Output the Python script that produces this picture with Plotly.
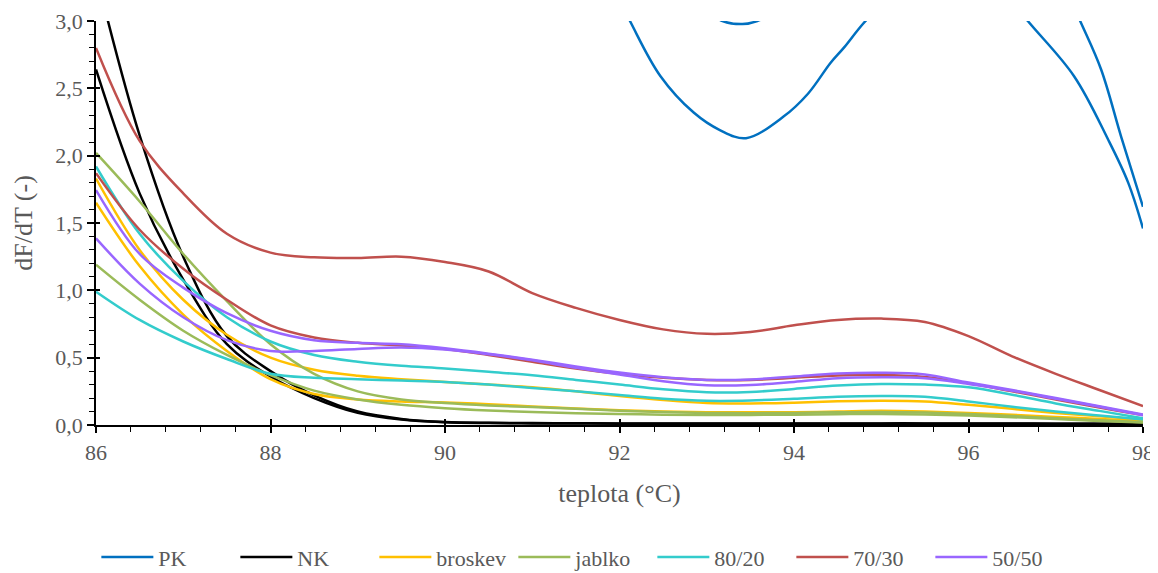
import plotly.graph_objects as go

# ---------------- data ----------------
teplota = [86, 86.5, 87, 87.5, 88, 88.5, 89, 89.5, 90, 90.5, 91, 91.5, 92, 92.5,
           93, 93.5, 94, 94.5, 95, 95.5, 96, 96.5, 97, 97.5, 98]

nk_1 = [3.35, 2.15, 1.25, 0.66, 0.40, 0.22, 0.10, 0.045, 0.022, 0.016, 0.014, 0.013, 0.012,
        0.012, 0.012, 0.012, 0.012, 0.012, 0.012, 0.012, 0.011, 0.011, 0.010, 0.010, 0.010]
nk_2 = [2.64, 1.72, 1.08, 0.60, 0.36, 0.20, 0.09, 0.04, 0.02, 0.014, 0.012, 0.011, 0.010,
        0.010, 0.010, 0.010, 0.010, 0.010, 0.010, 0.010, 0.009, 0.009, 0.009, 0.009, 0.009]
broskev_1 = [1.83, 1.30, 0.93, 0.67, 0.50, 0.41, 0.365, 0.34, 0.32, 0.30, 0.28, 0.25, 0.215,
             0.185, 0.163, 0.16, 0.166, 0.176, 0.18, 0.175, 0.15, 0.12, 0.09, 0.065, 0.04]
broskev_2 = [1.65, 1.18, 0.82, 0.55, 0.34, 0.23, 0.19, 0.175, 0.168, 0.155, 0.138, 0.122, 0.11,
             0.10, 0.095, 0.094, 0.095, 0.10, 0.105, 0.10, 0.09, 0.076, 0.06, 0.045, 0.03]
jablko_1 = [2.02, 1.66, 1.27, 0.92, 0.60, 0.38, 0.25, 0.19, 0.163, 0.145, 0.133, 0.12, 0.106,
            0.096, 0.09, 0.088, 0.09, 0.094, 0.096, 0.092, 0.082, 0.067, 0.05, 0.035, 0.02]
jablko_2 = [1.19, 0.93, 0.70, 0.52, 0.37, 0.255, 0.19, 0.15, 0.125, 0.108, 0.096, 0.088, 0.082,
            0.077, 0.075, 0.075, 0.077, 0.08, 0.082, 0.078, 0.07, 0.058, 0.045, 0.03, 0.018]
s80_20_1 = [1.92, 1.42, 1.07, 0.80, 0.62, 0.52, 0.47, 0.44, 0.42, 0.395, 0.37, 0.335, 0.30,
            0.265, 0.243, 0.245, 0.268, 0.293, 0.305, 0.30, 0.28, 0.225, 0.16, 0.105, 0.05]
s80_20_2 = [0.99, 0.78, 0.62, 0.49, 0.38, 0.35, 0.34, 0.33, 0.32, 0.30, 0.275, 0.25, 0.222,
            0.195, 0.18, 0.182, 0.195, 0.21, 0.215, 0.21, 0.175, 0.135, 0.10, 0.07, 0.04]
s70_30_1 = [2.80, 2.11, 1.72, 1.42, 1.28, 1.245, 1.24, 1.25, 1.21, 1.14, 0.98, 0.87, 0.78,
            0.71, 0.677, 0.69, 0.74, 0.78, 0.79, 0.765, 0.66, 0.51, 0.38, 0.26, 0.14]
s70_30_2 = [1.87, 1.45, 1.16, 0.93, 0.74, 0.65, 0.61, 0.59, 0.565, 0.52, 0.47, 0.42, 0.38,
            0.35, 0.335, 0.335, 0.35, 0.368, 0.372, 0.357, 0.31, 0.25, 0.19, 0.13, 0.075]
s50_50_1 = [1.745, 1.27, 1.02, 0.83, 0.70, 0.63, 0.61, 0.60, 0.57, 0.53, 0.485, 0.435, 0.39,
            0.355, 0.335, 0.338, 0.36, 0.382, 0.388, 0.375, 0.315, 0.26, 0.20, 0.14, 0.078]
s50_50_2 = [1.386, 1.05, 0.80, 0.63, 0.55, 0.55, 0.565, 0.575, 0.56, 0.525, 0.48, 0.425, 0.375,
            0.325, 0.295, 0.297, 0.32, 0.348, 0.355, 0.348, 0.305, 0.255, 0.195, 0.135, 0.072]

pk_1_x = [86, 88, 90, 91, 91.6, 92.12, 92.47, 92.85, 93.15, 93.45, 93.88, 94.16, 94.42, 94.57,
          94.82, 95.3, 95.8, 96.3, 96.68, 97.21, 97.6, 97.83, 98]
pk_1_y = [6.5, 6.0, 5.0, 4.3, 3.7, 3.0, 2.59, 2.32, 2.19, 2.13, 2.29, 2.46, 2.69, 2.80,
          3.0, 3.3, 3.42, 3.3, 3.0, 2.59, 2.12, 1.80, 1.46]
pk_2_x = [86, 88, 90, 91.5, 92.5, 93.0, 93.18, 93.41, 93.58, 93.9, 94.5, 95.5, 96.5, 97.0,
          97.28, 97.52, 97.75, 98]
pk_2_y = [6.5, 6.0, 5.0, 4.0, 3.35, 3.07, 3.0, 2.977, 3.0, 3.11, 3.4, 3.9, 3.8, 3.4,
          3.0, 2.64, 2.14, 1.62]

series = [
    ("PK", "#0070C0", [(pk_1_x, pk_1_y), (pk_2_x, pk_2_y)]),
    ("NK", "#000000", [(teplota, nk_1), (teplota, nk_2)]),
    ("broskev", "#FFC000", [(teplota, broskev_1), (teplota, broskev_2)]),
    ("jablko", "#9BBB59", [(teplota, jablko_1), (teplota, jablko_2)]),
    ("80/20", "#33CCCC", [(teplota, s80_20_1), (teplota, s80_20_2)]),
    ("70/30", "#C0504D", [(teplota, s70_30_1), (teplota, s70_30_2)]),
    ("50/50", "#9966FF", [(teplota, s50_50_1), (teplota, s50_50_2)]),
]

x_ticks = [86, 88, 90, 92, 94, 96, 98]
y_ticks = [0, 0.5, 1.0, 1.5, 2.0, 2.5, 3.0]

FONT = "Liberation Serif, Times New Roman, serif"
GREY = "#595959"

fig = go.Figure()
for name, color, curves in series:
    for i, (xs, ys) in enumerate(curves):
        fig.add_trace(go.Scatter(
            x=xs, y=ys, mode="lines", name=name, legendgroup=name,
            showlegend=(i == 0),
            line=dict(color=color, width=2.5, shape="spline", smoothing=1.0),
        ))

# invisible trace to host the overlay axes that give the crossing major ticks
fig.add_trace(go.Scatter(x=[None], y=[None], xaxis="x2", yaxis="y2",
                         showlegend=False, hoverinfo="skip"))

# the page adds an 8 px body margin, so the figure is 8 px smaller than the window
fig.update_layout(
    width=1150, height=565,
    margin=dict(l=88, r=15, t=13, b=148, autoexpand=False),
    paper_bgcolor="white", plot_bgcolor="white",
    separators=", ",
    font=dict(family=FONT, size=22, color=GREY),
    showlegend=True,
    legend=dict(orientation="h", x=0.465, xanchor="center", y=-0.327, yanchor="middle",
                font=dict(family=FONT, size=22, color=GREY),
                itemwidth=52, entrywidth=72, entrywidthmode="pixels",
                tracegroupgap=0, traceorder="normal"),
    xaxis=dict(
        range=[86, 98], tickvals=x_ticks, ticktext=[str(v) for v in x_ticks],
        automargin=False, ticklabeloverflow="allow",
        showgrid=False, zeroline=False,
        showline=True, linecolor="black", linewidth=1.5,
        ticks="outside", ticklen=6, tickwidth=1.5, tickcolor="black",
        ticklabelstandoff=1,
        minor=dict(dtick=0.4, tick0=86, ticks="outside", ticklen=5, tickwidth=1.2,
                   tickcolor="black", showgrid=False),
        tickfont=dict(family=FONT, size=22, color=GREY),
        title=dict(text="teplota (°C)", font=dict(family=FONT, size=26, color=GREY),
                   standoff=20),
    ),
    yaxis=dict(
        range=[0, 3], tickvals=y_ticks, tickformat=".1f",
        automargin=False,
        showgrid=False, zeroline=False,
        showline=True, linecolor="black", linewidth=1.5,
        ticks="outside", ticklen=7, tickwidth=1.5, tickcolor="black",
        minor=dict(dtick=0.1, tick0=0, ticks="outside", ticklen=5, tickwidth=1.2,
                   tickcolor="black", showgrid=False),
        tickfont=dict(family=FONT, size=22, color=GREY),
        title=dict(text="dF/dT (-)", font=dict(family=FONT, size=26, color=GREY),
                   standoff=15),
    ),
    xaxis2=dict(overlaying="x", anchor="y2", range=[86, 98], tickvals=x_ticks,
                automargin=False,
                showticklabels=False, showgrid=False, zeroline=False, showline=False,
                ticks="inside", ticklen=6, tickwidth=1.5, tickcolor="black"),
    yaxis2=dict(overlaying="y", anchor="x2", range=[0, 3], tickvals=y_ticks,
                automargin=False,
                showticklabels=False, showgrid=False, zeroline=False, showline=False,
                ticks="inside", ticklen=4, tickwidth=1.5, tickcolor="black"),
)

fig.write_html("out.html")
